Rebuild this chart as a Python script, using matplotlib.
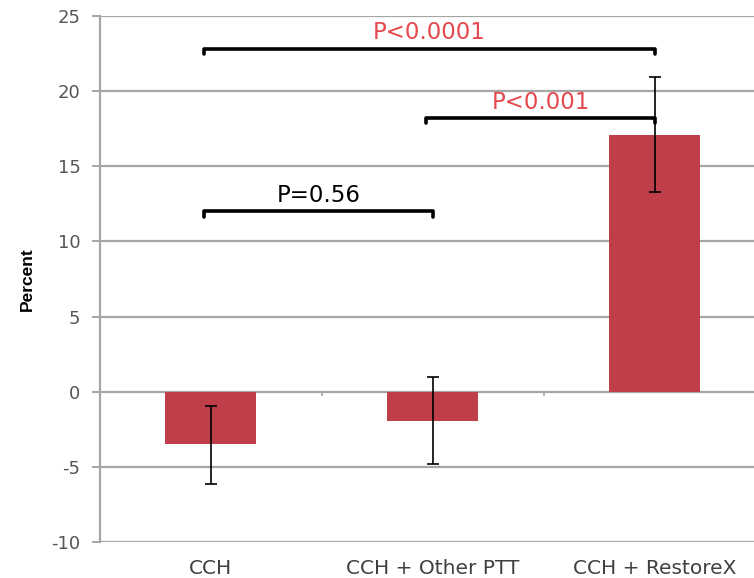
import matplotlib
matplotlib.use("Agg")
import matplotlib.pyplot as plt

categories = ["CCH", "CCH + Other PTT", "CCH + RestoreX"]
means = [-3.5, -1.95, 17.1]
err_hi = [-0.95, 1.0, 20.95]
err_lo = [-6.1, -4.8, 13.3]

# (left group, right group, bracket height, label, colour)
comparisons = [(0, 2, 22.8, "P<0.0001", "#E5484D"),
               (1, 2, 18.2, "P<0.001", "#E5484D"),
               (0, 1, 12.0, "P=0.56", "black")]
yticks = [-10, -5, 0, 5, 10, 15, 20, 25]

BAR = "#BE3E4A"
GRID = "#A6A6A6"
plt.rcParams["font.family"] = ["DejaVu Sans"]

fig = plt.figure(figsize=(7.54, 5.78), dpi=100)
ax = fig.add_axes([0.1326, 0.0618, 0.8674, 0.911])

x = list(range(len(categories)))
yerr = [[m - lo for m, lo in zip(means, err_lo)], [hi - m for m, hi in zip(means, err_hi)]]
ax.bar(x, means, width=0.41, color=BAR, zorder=2)
ax.errorbar(x, means, yerr=yerr, fmt="none", ecolor="black", elinewidth=1.2,
            capsize=4, capthick=1.2, zorder=3)

ax.set_ylim(-10, 25)
ax.set_xlim(-0.5, 2.446)
ax.set_yticks(yticks)
ax.set_yticklabels([str(t) for t in yticks], fontsize=13, color="#555555")
for t in yticks:
    ax.axhline(t, color=GRID, lw=1.6, zorder=1)
# little category separators hanging off the zero line
ax.vlines([0.5, 1.5], -0.3, 0, color=GRID, lw=1.2, zorder=1)

for s in ["top", "right", "bottom"]:
    ax.spines[s].set_visible(False)
ax.spines["left"].set_color(GRID)
ax.spines["left"].set_linewidth(1.6)
ax.tick_params(axis="y", length=6, width=1.4, color=GRID, pad=8)
ax.tick_params(axis="x", length=0, pad=12)
ax.set_xticks(x)
ax.set_xticklabels(categories, fontsize=14.5, color="#404040")

ax.set_ylabel("Percent", fontsize=12.5, fontweight="bold",
              family=["Liberation Sans Narrow", "Liberation Sans", "DejaVu Sans"], labelpad=12)

for a, b, h, lab, col in comparisons:
    xa, xb = a - 0.03, b
    ax.plot([xa, xa, xb, xb], [h - 0.35, h, h, h - 0.35], color="black", lw=2.6,
            solid_capstyle="round", solid_joinstyle="round", zorder=4)
    ax.text((xa + xb) / 2, h + 0.3, lab, ha="center", va="bottom", fontsize=16.5,
            color=col, zorder=5)

fig.savefig("out.png", dpi=100)
